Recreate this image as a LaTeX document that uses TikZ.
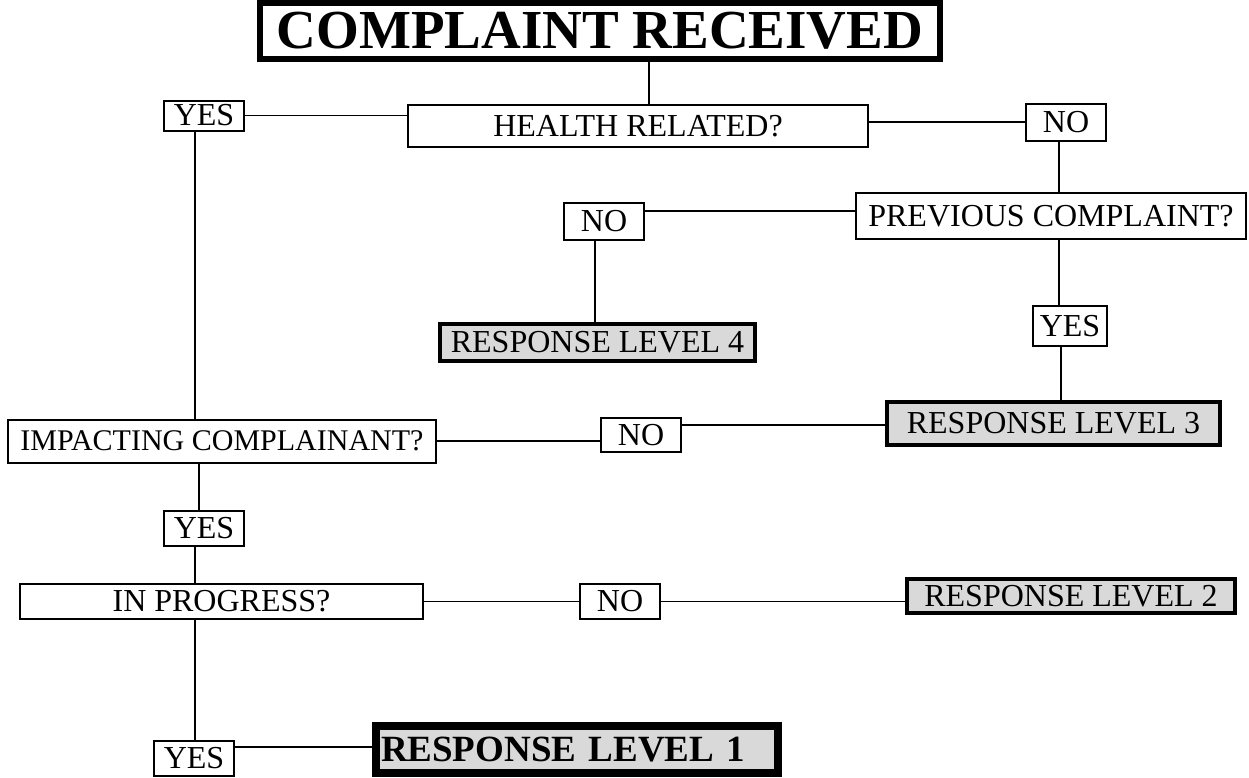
\documentclass[tikz,border=0pt]{standalone}
\usepackage{fontspec}
\setmainfont{Liberation Serif}
\definecolor{respgray}{HTML}{D9D9D9}
\begin{document}
\begin{tikzpicture}[x=1pt,y=-1pt,
  box/.style={draw, line width=2pt, inner sep=0pt, font=\fontsize{32}{32}\selectfont},
  resp/.style={box, fill=respgray, line width=4pt},
  titlebox/.style={draw, line width=6pt, inner sep=0pt, font=\bfseries\fontsize{55}{55}\selectfont},
  rlone/.style={draw, line width=8pt, fill=respgray, inner ysep=0pt, inner xsep=5pt, align=left, font=\bfseries\fontsize{37}{37}\selectfont},
  conn/.style={line width=1.5pt}]
\useasboundingbox (0,0) rectangle (1249,777);

\node[titlebox, minimum width=680, minimum height=56] (complaint) at (600,31) {COMPLAINT RECEIVED};
\node[box, minimum width=460, minimum height=42] (hr) at (638,126) {HEALTH RELATED?};
\node[box, minimum width=80, minimum height=30] (yes1) at (204,115.5) {YES};
\node[box, minimum width=80, minimum height=37] (no1) at (1066,122) {NO};
\node[box, minimum width=390, minimum height=46] (prev) at (1051,216) {PREVIOUS COMPLAINT?};
\node[box, minimum width=80, minimum height=37] (no2) at (604,221.5) {NO};
\node[resp, minimum width=315, minimum height=37] (rl4) at (597.5,342.5) {RESPONSE LEVEL 4};
\node[box, minimum width=74, minimum height=40] (yes2) at (1070,326) {YES};
\node[resp, minimum width=333, minimum height=43] (rl3) at (1053.5,423.5) {RESPONSE LEVEL 3};
\node[box, minimum width=428, minimum height=43, font=\fontsize{30}{30}\selectfont] (imp) at (222,441) {IMPACTING COMPLAINANT?};
\node[box, minimum width=80, minimum height=34] (no3) at (641,435) {NO};
\node[box, minimum width=80, minimum height=35] (yes3) at (204,528.5) {YES};
\node[box, minimum width=403, minimum height=35] (inprog) at (221.5,601.5) {IN PROGRESS?};
\node[box, minimum width=80, minimum height=35] (no4) at (620,601.5) {NO};
\node[resp, minimum width=328, minimum height=34] (rl2) at (1071,596) {RESPONSE LEVEL 2};
\node[box, minimum width=80, minimum height=35] (yes4) at (194,758) {YES};
\node[rlone, text width=392, minimum height=47] (rl1) at (577,749.5) {RESPONSE LEVEL 1};

\coordinate (xa) at (649,0);
\coordinate (xb) at (1059,0);
\coordinate (xc) at (595,0);
\coordinate (xd) at (1061,0);
\coordinate (xe) at (195,0);
\coordinate (xf) at (199,0);
\coordinate (ya) at (0,211);
\coordinate (yb) at (0,425);
\coordinate (yc) at (0,747);

\draw[conn] (complaint.south -| xa) -- (hr.north -| xa);
\draw[conn] (yes1.east) -- (yes1.east -| hr.west);
\draw[conn] (hr.east |- no1.west) -- (no1.west);
\draw[conn] (no1.south -| xb) -- (prev.north -| xb);
\draw[conn] (no2.east |- ya) -- (prev.west |- ya);
\draw[conn] (no2.south -| xc) -- (rl4.north -| xc);
\draw[conn] (prev.south -| xb) -- (yes2.north -| xb);
\draw[conn] (yes2.south -| xd) -- (rl3.north -| xd);
\draw[conn] (rl3.west |- yb) -- (no3.east |- yb);
\draw[conn] (imp.east) -- (imp.east -| no3.west);
\draw[conn] (yes1.south -| xe) -- (imp.north -| xe);
\draw[conn] (imp.south -| xf) -- (yes3.north -| xf);
\draw[conn] (yes3.south -| xe) -- (inprog.north -| xe);
\draw[conn] (inprog.east) -- (inprog.east -| no4.west);
\draw[conn] (no4.east) -- (no4.east -| rl2.west);
\draw[conn] (inprog.south -| xe) -- (yes4.north -| xe);
\draw[conn] (yes4.east |- yc) -- (rl1.west |- yc);
\end{tikzpicture}
\end{document}
